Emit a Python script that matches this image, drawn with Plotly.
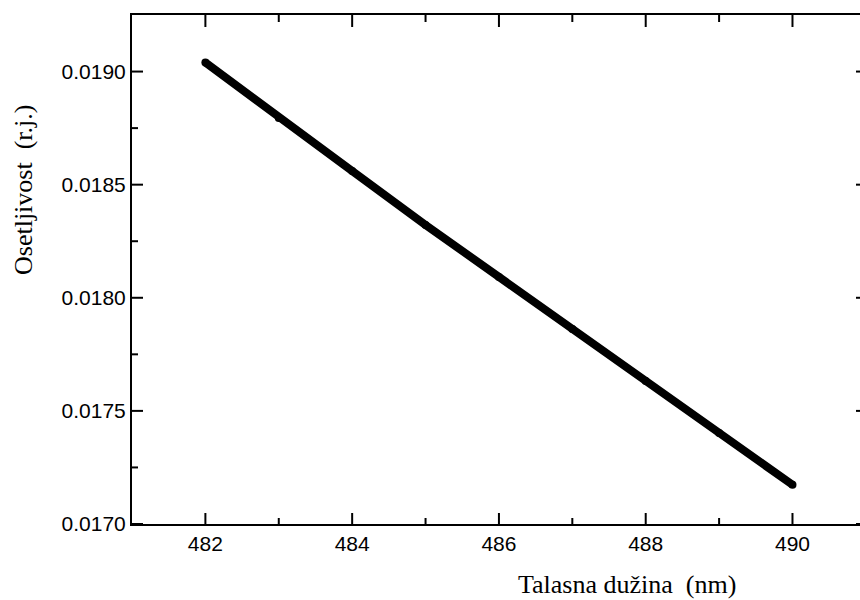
import plotly.graph_objects as go

wavelength = [482, 483, 484, 485, 486, 487, 488, 489, 490]
sensitivity = [0.01904, 0.018795, 0.018560, 0.018322, 0.018092, 0.017862, 0.017632, 0.017402, 0.017173]

x_ticks = [482, 484, 486, 488, 490]
x_minor = [483, 485, 487, 489]
y_ticks = [0.0170, 0.0175, 0.0180, 0.0185, 0.0190]
y_minor = [0.01725, 0.01775, 0.01825, 0.01875]
y_tick_text = ["0.0170", "0.0175", "0.0180", "0.0185", "0.0190"]

x_title = "Talasna dužina  (nm)"
y_title = "Osetljivost  (r.j.)"

W, H = 860, 600
ml, mr, mt, mb = 132, 0, 15, 76
x_range = [481, 490.92]
y_range = [0.0170, 0.01925]

fig = go.Figure()
fig.add_trace(go.Scatter(
    x=wavelength, y=sensitivity, mode="lines+markers",
    line=dict(color="black", width=8),
    marker=dict(color="black", size=8),
    showlegend=False, hoverinfo="skip"))

tickfont = dict(family="Liberation Sans, Arial, sans-serif", size=21, color="black")
titlefont = dict(family="Liberation Serif, Times New Roman, serif", size=26, color="black")

fig.update_layout(
    template="none",
    width=W, height=H,
    margin=dict(l=ml, r=mr, t=mt, b=mb, pad=0),
    paper_bgcolor="white", plot_bgcolor="white",
    xaxis=dict(
        range=x_range, tickmode="array", tickvals=x_ticks, ticktext=[str(v) for v in x_ticks],
        showgrid=False, zeroline=False,
        showline=True, linecolor="black", linewidth=2, mirror=True,
        ticks="", tickfont=tickfont,
    ),
    yaxis=dict(
        range=y_range, tickmode="array", tickvals=y_ticks, ticktext=y_tick_text,
        showgrid=False, zeroline=False,
        showline=True, linecolor="black", linewidth=2,
        ticks="", tickfont=tickfont,
    ),
)

tick_line = dict(color="black", width=2)

def xtick(v, length, at_top):
    fig.add_shape(type="line", layer="above", xref="x", x0=v, x1=v,
                  yref="paper", ysizemode="pixel", yanchor=1 if at_top else 0,
                  y0=0, y1=-length if at_top else length, line=tick_line)

def ytick(v, length, at_right):
    fig.add_shape(type="line", layer="above", yref="y", y0=v, y1=v,
                  xref="paper", xsizemode="pixel", xanchor=1 if at_right else 0,
                  x0=0, x1=-length if at_right else length, line=tick_line)

for v in x_ticks:
    xtick(v, 11, False)
    xtick(v, 12, True)
for v in x_minor:
    xtick(v, 6, False)
    xtick(v, 7, True)
for v in y_ticks:
    ytick(v, 11, False)
    ytick(v, 4, True)
for v in y_minor:
    ytick(v, 6, False)

pw = W - ml - mr
ph = H - mt - mb
fig.add_annotation(text=x_title, xref="paper", yref="paper",
                   x=(627 - ml) / pw, y=(H - mb - 584) / ph,
                   xanchor="center", yanchor="middle", showarrow=False, font=titlefont)
fig.add_annotation(text=y_title, xref="paper", yref="paper",
                   x=(23 - ml) / pw, y=(H - mb - 190) / ph, textangle=-90,
                   xanchor="center", yanchor="middle", showarrow=False, font=titlefont)

fig.write_html("out.html")
